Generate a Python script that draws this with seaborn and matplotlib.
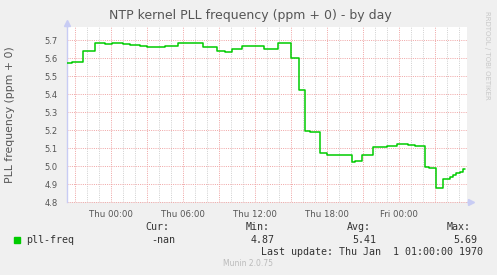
import matplotlib
matplotlib.use("Agg")
import matplotlib.pyplot as plt
import seaborn as sns
import numpy as np

# ---- data (hours relative to Thu 00:00, step start) ----
hours = [-3.667, -3.25, -2.833, -2.333, -1.333, -0.5, 0.083, 1.0, 1.583, 2.417,
         3.0, 4.5, 5.583, 7.667, 8.833, 9.5, 10.083, 10.917, 12.75, 13.917,
         15.0, 15.667, 16.167, 16.583, 17.417, 18.0, 20.083, 20.333, 20.917, 21.833,
         23.0, 23.833, 24.75, 25.333, 26.167, 26.5, 27.083, 27.667, 27.917, 28.25,
         28.5, 28.75, 29.083, 29.333, 29.5]
pll_freq = [5.572, 5.576, 5.580, 5.640, 5.682, 5.677, 5.682, 5.677, 5.672, 5.667,
            5.661, 5.667, 5.682, 5.663, 5.639, 5.632, 5.648, 5.668, 5.648, 5.685,
            5.598, 5.422, 5.196, 5.187, 5.070, 5.061, 5.024, 5.030, 5.061, 5.104,
            5.113, 5.120, 5.115, 5.111, 4.993, 4.988, 4.876, 4.926, 4.930, 4.940,
            4.950, 4.963, 4.968, 4.981, 4.981]
xtick_pos = [0, 6, 12, 18, 24]
xtick_labels = ["Thu 00:00", "Thu 06:00", "Thu 12:00", "Thu 18:00", "Fri 00:00"]
yticks = [4.8, 4.9, 5.0, 5.1, 5.2, 5.3, 5.4, 5.5, 5.6, 5.7]
legend_name = "pll-freq"
stat_cur, stat_min, stat_avg, stat_max = "-nan", "4.87", "5.41", "5.69"

W, H = 497, 275
sns.set_theme(style="white")
plt.rcParams['font.family'] = ['DejaVu Sans']
fig = plt.figure(figsize=(W / 100, H / 100), dpi=100, facecolor="#F0F0F0")

L, R, T, B = 67, 467, 27, 202
ax = fig.add_axes([L / W, 1 - B / H, (R - L) / W, (B - T) / H])
ax.set_facecolor("white")

XMIN, XMAX = -44 / 12, 356 / 12
YMIN = 4.8
YMAX = 4.8 + (B - T) / 180
ax.set_xlim(XMIN, XMAX)
ax.set_ylim(YMIN, YMAX)

# grid
minor_col = "#D2D2D2"
major_col = "#F0A8A8"
for h in np.arange(-3, 30, 1):
    if h % 3 != 0:
        ax.axvline(h, color=minor_col, lw=0.72, ls=(0, (1, 1.2)), zorder=1)
for h in np.arange(-3, 30, 3):
    ax.axvline(h, color=major_col, lw=0.72, ls=(0, (1, 1.2)), zorder=1)
for v in yticks:
    ax.axhline(v, color=major_col, lw=0.72, ls=(0, (1, 1.2)), zorder=1, clip_on=False)

sns.lineplot(x=hours, y=pll_freq, ax=ax, color="#00CC00", lw=1.1,
             drawstyle="steps-post", zorder=3)

ax.set_xticks(xtick_pos)
ax.set_xticklabels(xtick_labels)
ax.set_xticks(list(np.arange(-3, 30, 3)), minor=True)
ax.set_yticks(yticks)
ax.set_yticklabels([f"{v:.1f}" for v in yticks])
ax.tick_params(axis="x", which="major", length=1.5, color=major_col, pad=4,
               labelsize=6.2, labelcolor="#555555", width=0.8)
ax.tick_params(axis="x", which="minor", length=1.5, color=major_col, width=0.8)
ax.tick_params(axis="y", length=1.5, color=major_col, pad=5,
               labelsize=6.0, labelcolor="#555555", width=0.8)

for s in ["top", "right", "bottom"]:
    ax.spines[s].set_visible(False)
ax.spines["left"].set_color("#C8CCF4")
ax.spines["left"].set_linewidth(1.0)

# axis arrows
axis_col = "#C8CCF4"
ax.plot([XMIN, XMIN], [YMAX, YMAX + 4 / 180], color=axis_col, lw=1.0, clip_on=False)
ax.plot([XMIN], [YMAX + 4 / 180], marker="^", ms=5, color=axis_col, clip_on=False)
ax.plot([XMAX, XMAX + 3 / 12], [YMIN, YMIN], color=axis_col, lw=1.0, clip_on=False)
ax.plot([XMAX + 4 / 12], [YMIN], marker=">", ms=5, color=axis_col, clip_on=False)

ax.set_xlabel("")
ax.set_ylabel("")

def ftext(px, py, s, **kw):
    fig.text(px / W, 1 - py / H, s, **kw)

ftext(250, 15, "NTP kernel PLL frequency (ppm + 0) - by day", ha="center", va="center",
      fontsize=9.0, color="#555555")
ftext(10, 115, "PLL frequency (ppm + 0)", ha="center", va="center", rotation=90,
      fontsize=7.8, color="#555555")
ftext(487, 55, "RRDTOOL / TOBI OETIKER", ha="center", va="center", rotation=270,
      fontsize=5.0, color="#C8C8C8")

mono = dict(family="DejaVu Sans Mono", fontsize=7.2, color="#333333", va="center")
ftext(145, 227, "Cur:", ha="left", **mono)
ftext(246, 227, "Min:", ha="left", **mono)
ftext(347, 227, "Avg:", ha="left", **mono)
ftext(447, 227, "Max:", ha="left", **mono)
ftext(26, 240, legend_name, ha="left", **mono)
ftext(175, 240, stat_cur, ha="right", **mono)
ftext(275, 240, stat_min, ha="right", **mono)
ftext(376, 240, stat_avg, ha="right", **mono)
ftext(477, 240, stat_max, ha="right", **mono)
ftext(483, 252, "Last update: Thu Jan  1 01:00:00 1970", ha="right", **mono)
fig.patches.append(plt.Rectangle((14 / W, 1 - 243 / H), 6 / W, 6 / H,
                                 transform=fig.transFigure, color="#00CC00"))
ftext(248, 263, "Munin 2.0.75", ha="center", va="center", fontsize=5.5, color="#BBBBBB")

fig.savefig("out.png", dpi=100, facecolor=fig.get_facecolor())
